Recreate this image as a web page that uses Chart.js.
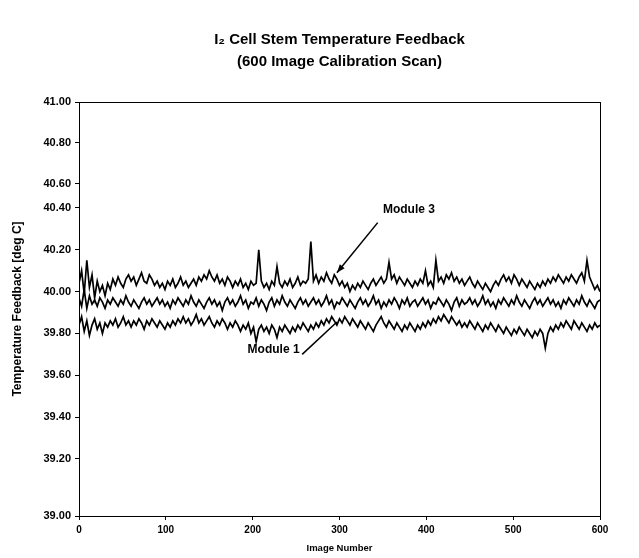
<!DOCTYPE html>
<html>
<head>
<meta charset="utf-8">
<script src="https://cdn.jsdelivr.net/npm/chart.js@4/dist/chart.umd.min.js"></script>
<style>
  html, body { margin: 0; padding: 0; background: #fff; }
  #wrap { width: 639px; height: 558px; }
</style>
</head>
<body>
<div id="wrap"><canvas id="chart"></canvas></div>
<script>
// image numbers, sampled every 3 images from 0 to 600
const imageNumbers = Array.from({length: 201}, (_, i) => i * 3);

const module3 = [
  40.04, 40.10, 39.99, 40.15, 40.02, 40.08, 39.97, 40.05, 40.00, 40.03,
  39.98, 40.04, 40.01, 40.06, 40.03, 40.07, 40.04, 40.02, 40.06, 40.08,
  40.05, 40.07, 40.03, 40.06, 40.09, 40.05, 40.04, 40.08, 40.06, 40.03,
  40.05, 40.02, 40.04, 40.01, 40.05, 40.03, 40.06, 40.02, 40.04, 40.07,
  40.03, 40.05, 40.02, 40.04, 40.06, 40.03, 40.07, 40.05, 40.08, 40.06,
  40.10, 40.07, 40.05, 40.08, 40.04, 40.06, 40.03, 40.07, 40.05, 40.02,
  40.05, 40.03, 40.06, 40.02, 40.04, 40.01, 40.05, 40.03, 40.04, 40.20,
  40.05, 40.02, 40.04, 40.01, 40.05, 40.03, 40.12, 40.04, 40.02, 40.05,
  40.03, 40.06, 40.02, 40.04, 40.07, 40.03, 40.05, 40.04, 40.06, 40.24,
  40.05, 40.08, 40.04, 40.07, 40.05, 40.09, 40.06, 40.04, 40.08, 40.06,
  40.03, 40.05, 40.02, 40.04, 40.00, 40.03, 40.01, 40.04, 40.02, 40.05,
  40.03, 40.01, 40.04, 40.06, 40.03, 40.05, 40.07, 40.04, 40.06, 40.14,
  40.06, 40.08, 40.04, 40.07, 40.05, 40.03, 40.06, 40.04, 40.02, 40.05,
  40.03, 40.06, 40.04, 40.10, 40.03, 40.05, 40.02, 40.15, 40.05, 40.07,
  40.04, 40.08, 40.06, 40.09, 40.05, 40.07, 40.04, 40.06, 40.03, 40.05,
  40.07, 40.04, 40.02, 40.05, 40.03, 40.01, 40.04, 40.02, 40.00, 40.03,
  40.05, 40.03, 40.06, 40.08, 40.05, 40.07, 40.04, 40.08, 40.06, 40.03,
  40.06, 40.04, 40.02, 40.05, 40.03, 40.01, 40.04, 40.02, 40.05, 40.03,
  40.06, 40.04, 40.07, 40.05, 40.08, 40.06, 40.04, 40.07, 40.05, 40.08,
  40.06, 40.04, 40.07, 40.09, 40.05, 40.15, 40.07, 40.04, 40.01, 40.03,
  40.00
];

const module2 = [
  39.97, 39.93, 40.01, 39.92, 39.98, 39.94, 39.96, 39.93, 39.97, 39.95,
  39.92, 39.96, 39.94, 39.97, 39.95, 39.93, 39.96, 39.94, 39.98, 39.95,
  39.93, 39.96, 39.94, 39.92, 39.95, 39.97, 39.94, 39.96, 39.93, 39.95,
  39.97, 39.94, 39.96, 39.93, 39.95, 39.92, 39.96, 39.94, 39.97, 39.95,
  39.93, 39.96, 39.94, 39.98, 39.95, 39.93, 39.96, 39.94, 39.92, 39.95,
  39.97, 39.94, 39.96, 39.93, 39.95, 39.91, 39.95, 39.97, 39.94, 39.96,
  39.93, 39.95, 39.98, 39.94, 39.96, 39.92, 39.95, 39.94, 39.97, 39.93,
  39.96, 39.94, 39.91, 39.95, 39.97, 39.93, 39.96, 39.94, 39.98, 39.95,
  39.93, 39.96, 39.94, 39.92, 39.95, 39.97, 39.94, 39.96, 39.93, 39.95,
  39.97, 39.94, 39.96, 39.93, 39.95, 39.98, 39.94, 39.96, 39.92, 39.95,
  39.94, 39.97, 39.95, 39.93, 39.96, 39.94, 39.92, 39.95, 39.97, 39.94,
  39.96, 39.93, 39.95, 39.98, 39.94, 39.96, 39.92, 39.95, 39.93, 39.96,
  39.94, 39.97, 39.95, 39.92, 39.96, 39.94, 39.97, 39.93, 39.95, 39.96,
  39.93, 39.95, 39.97, 39.94, 39.96, 39.92, 39.95, 39.94, 39.97, 39.95,
  39.93, 39.96, 39.94, 39.91, 39.95, 39.97, 39.93, 39.96, 39.94, 39.95,
  39.97, 39.94, 39.96, 39.93, 39.95, 39.98, 39.94, 39.96, 39.93, 39.95,
  39.92, 39.96, 39.94, 39.97, 39.95, 39.93, 39.96, 39.94, 39.98, 39.95,
  39.93, 39.96, 39.94, 39.92, 39.95, 39.97, 39.94, 39.96, 39.93, 39.95,
  39.97, 39.94, 39.96, 39.93, 39.95, 39.92, 39.96, 39.94, 39.97, 39.95,
  39.93, 39.96, 39.94, 39.98, 39.95, 39.93, 39.96, 39.94, 39.92, 39.95,
  39.96
];

const module1 = [
  39.84, 39.88, 39.81, 39.86, 39.79, 39.84, 39.87, 39.82, 39.85, 39.80,
  39.85, 39.83, 39.86, 39.84, 39.87, 39.83, 39.85, 39.88, 39.84, 39.86,
  39.83, 39.86, 39.84, 39.87, 39.85, 39.82, 39.86, 39.84, 39.87, 39.85,
  39.83, 39.86, 39.84, 39.82, 39.85, 39.83, 39.86, 39.84, 39.87, 39.85,
  39.88, 39.85, 39.87, 39.84, 39.86, 39.89, 39.85, 39.87, 39.84, 39.86,
  39.88, 39.85, 39.83, 39.86, 39.84, 39.87, 39.85, 39.82, 39.85, 39.83,
  39.86, 39.84, 39.81, 39.84, 39.82, 39.85, 39.80, 39.83, 39.76, 39.82,
  39.84, 39.81, 39.83, 39.80, 39.84, 39.82, 39.78, 39.83, 39.81, 39.84,
  39.82, 39.80, 39.83, 39.81, 39.84, 39.82, 39.85, 39.83, 39.81, 39.84,
  39.82, 39.85, 39.83, 39.86, 39.84, 39.87, 39.85, 39.88, 39.86, 39.84,
  39.87, 39.85, 39.88, 39.86, 39.84, 39.87, 39.85, 39.83, 39.86, 39.84,
  39.82, 39.85, 39.83, 39.81, 39.84, 39.86, 39.88, 39.85, 39.83, 39.86,
  39.84, 39.82, 39.85, 39.83, 39.81, 39.84, 39.82, 39.85, 39.83, 39.81,
  39.84, 39.82, 39.85, 39.83, 39.86, 39.84, 39.87, 39.85, 39.88, 39.86,
  39.89, 39.87, 39.85, 39.88, 39.86, 39.84, 39.86, 39.83, 39.85, 39.83,
  39.86, 39.84, 39.82, 39.85, 39.83, 39.81, 39.84, 39.82, 39.85, 39.83,
  39.81, 39.84, 39.82, 39.80, 39.83, 39.81, 39.79, 39.82, 39.80, 39.83,
  39.81, 39.79, 39.82, 39.80, 39.78, 39.81, 39.79, 39.82, 39.80, 39.73,
  39.80, 39.83, 39.81, 39.84, 39.82, 39.85, 39.83, 39.86, 39.84, 39.82,
  39.86, 39.84, 39.82, 39.85, 39.83, 39.81, 39.84, 39.82, 39.85, 39.83,
  39.84
];

const titleLines = ['I\u2082 Cell Stem Temperature Feedback', '(600 Image Calibration Scan)'];

// callouts in data coordinates: label position, arrow start and tip
const callouts = [
  {label: 'Module 3', text: [350, 40.39], align: 'left', from: [344, 40.33], to: [297, 40.09], head: true},
  {label: 'Module 1', text: [254, 39.72], align: 'right', from: [257, 39.70], to: [297, 39.855], head: false}
];

// the scanned original has unevenly spaced gridlines on the value axis:
// value -> fraction of the axis height (from the top)
const yWarpValues = [41.0, 40.6, 40.4, 39.2, 39.0];
const yWarpFracs = [0, 0.198, 0.256, 0.862, 1];

function warpFrac(v) {
  for (let i = 1; i < yWarpValues.length; i++) {
    if (v >= yWarpValues[i] || i === yWarpValues.length - 1) {
      const t = (yWarpValues[i - 1] - v) / (yWarpValues[i - 1] - yWarpValues[i]);
      return yWarpFracs[i - 1] + t * (yWarpFracs[i] - yWarpFracs[i - 1]);
    }
  }
  return 0;
}

class ScanScale extends Chart.LinearScale {
  getPixelForValue(value) {
    return this.top + warpFrac(value) * (this.bottom - this.top);
  }
  getValueForPixel(pixel) {
    const f = (pixel - this.top) / (this.bottom - this.top);
    for (let i = 1; i < yWarpFracs.length; i++) {
      if (f <= yWarpFracs[i] || i === yWarpFracs.length - 1) {
        const t = (f - yWarpFracs[i - 1]) / (yWarpFracs[i] - yWarpFracs[i - 1]);
        return yWarpValues[i - 1] + t * (yWarpValues[i] - yWarpValues[i - 1]);
      }
    }
    return yWarpValues[0];
  }
}
ScanScale.id = 'scan';
ScanScale.defaults = Chart.LinearScale.defaults;
Chart.register(ScanScale);

const FONT = '"Liberation Sans", Arial, sans-serif';

const frame = {
  id: 'frame',
  afterDraw(chart) {
    const {ctx, chartArea: a, scales: {x, y}} = chart;
    ctx.save();
    ctx.strokeStyle = '#000';
    ctx.lineWidth = 1;
    ctx.strokeRect(a.left + 0.5, a.top + 0.5, a.right - a.left, a.bottom - a.top);

    ctx.fillStyle = '#000';
    ctx.textAlign = 'center';
    ctx.textBaseline = 'middle';
    ctx.font = 'bold 15px ' + FONT;
    const cx = (a.left + a.right) / 2;
    ctx.fillText(titleLines[0], cx, 40);
    ctx.fillText(titleLines[1], cx, 62);

    ctx.font = 'bold 12px ' + FONT;
    callouts.forEach(c => {
      ctx.textAlign = c.align;
      ctx.fillText(c.label, x.getPixelForValue(c.text[0]), y.getPixelForValue(c.text[1]));
      const x1 = x.getPixelForValue(c.from[0]), y1 = y.getPixelForValue(c.from[1]);
      const x2 = x.getPixelForValue(c.to[0]), y2 = y.getPixelForValue(c.to[1]);
      ctx.beginPath();
      ctx.moveTo(x1, y1);
      ctx.lineTo(x2, y2);
      ctx.lineWidth = 1.5;
      ctx.stroke();
      if (c.head) {
        const ang = Math.atan2(y2 - y1, x2 - x1);
        ctx.beginPath();
        ctx.moveTo(x2, y2);
        ctx.lineTo(x2 - 9 * Math.cos(ang - 0.35), y2 - 9 * Math.sin(ang - 0.35));
        ctx.lineTo(x2 - 9 * Math.cos(ang + 0.35), y2 - 9 * Math.sin(ang + 0.35));
        ctx.closePath();
        ctx.fill();
      }
    });
    ctx.restore();
  }
};

const mkSet = (label, vals) => ({
  label: label,
  data: vals.map((v, i) => ({x: imageNumbers[i], y: v})),
  borderColor: '#000',
  borderWidth: 1.7,
  pointRadius: 0,
  tension: 0,
  fill: false
});

new Chart(document.getElementById('chart'), {
  type: 'line',
  data: {
    datasets: [
      mkSet('Module 1', module1),
      mkSet('Module 2', module2),
      mkSet('Module 3', module3)
    ]
  },
  options: {
    responsive: true,
    maintainAspectRatio: false,
    animation: false,
    events: [],
    layout: { padding: { top: 102, right: 39, left: 0, bottom: 0 } },
    scales: {
      x: {
        type: 'linear',
        min: 0,
        max: 600,
        afterFit: s => { s.height = 42; },
        ticks: { stepSize: 100, color: '#000', font: { family: FONT, size: 10, weight: 'bold' }, padding: 4 },
        grid: { display: true, drawOnChartArea: false, tickLength: 4, color: '#000' },
        border: { color: '#000' },
        title: { display: true, text: 'Image Number', color: '#000', font: { family: FONT, size: 9.5, weight: 'bold' }, padding: { top: 4 } }
      },
      y: {
        type: 'scan',
        min: 39,
        max: 41,
        afterFit: s => { s.width = 79; },
        ticks: {
          stepSize: 0.2,
          color: '#000',
          font: { family: FONT, size: 11, weight: 'bold' },
          padding: 4,
          callback: v => v.toFixed(2)
        },
        grid: { display: true, drawOnChartArea: false, tickLength: 4, color: '#000' },
        border: { color: '#000' },
        title: { display: true, text: 'Temperature Feedback [deg C]', color: '#000', font: { family: FONT, size: 12, weight: 'bold' }, padding: { top: 10, bottom: 4 } }
      }
    },
    plugins: {
      legend: { display: false },
      tooltip: { enabled: false }
    }
  },
  plugins: [frame]
});
</script>
</body>
</html>
